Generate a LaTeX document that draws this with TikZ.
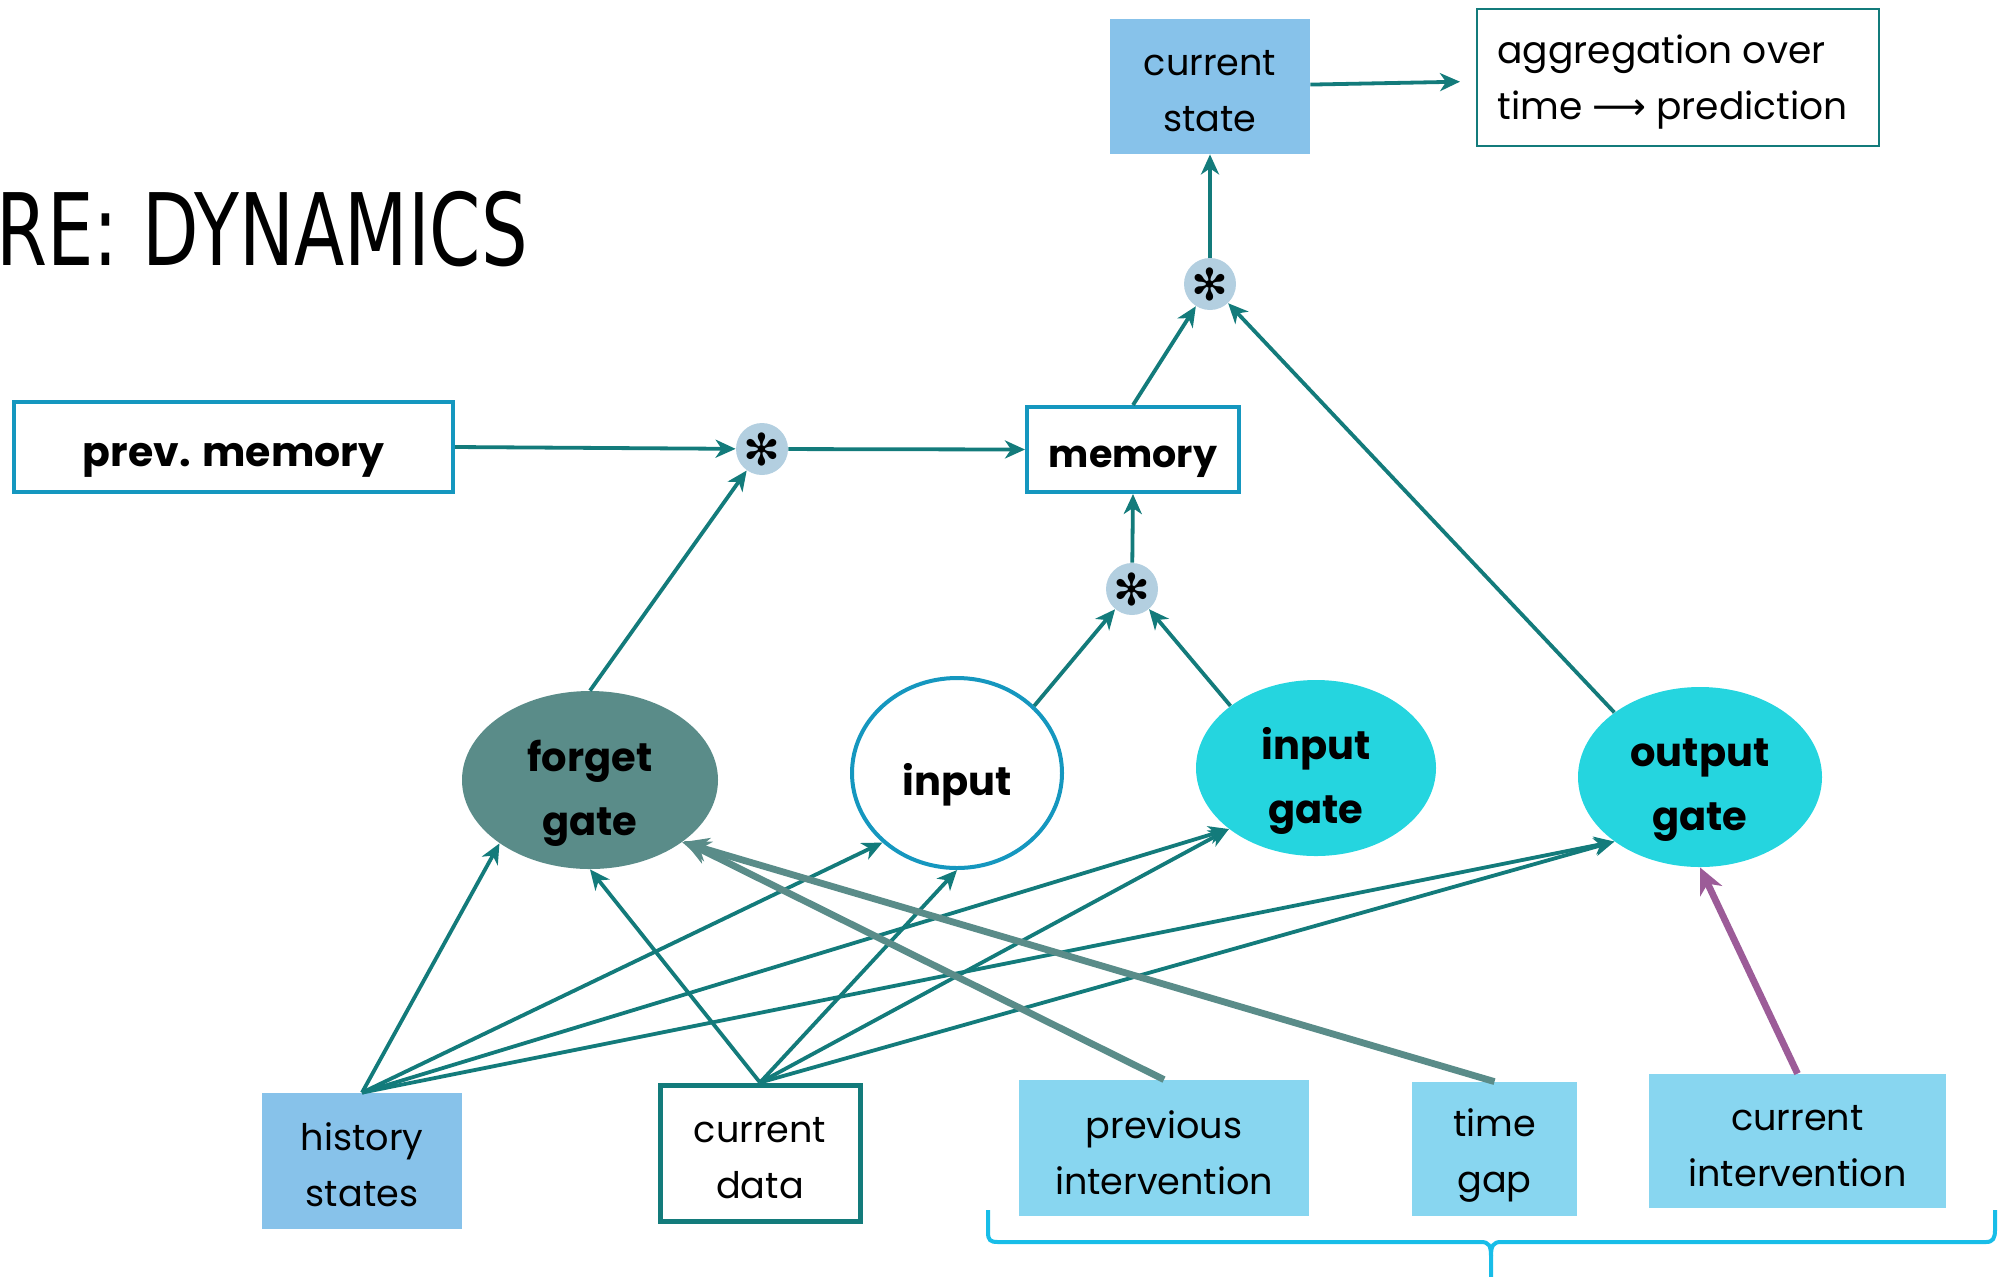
\documentclass[tikz,border=0pt]{standalone}
\usepackage{fontspec}
\setmainfont{Poppins}
\newfontfamily\titlefont[FakeStretch=0.735]{DejaVu Sans}
\newfontfamily\symfont{DejaVu Sans}
\usetikzlibrary{shapes.geometric,arrows.meta}

\definecolor{tealline}{HTML}{137B7B}
\definecolor{boxblue}{HTML}{1597BF}
\definecolor{stateblue}{HTML}{87C2EA}
\definecolor{ivblue}{HTML}{88D6F0}
\definecolor{forgetfill}{HTML}{5A8C89}
\definecolor{gatecyan}{HTML}{25D5DF}
\definecolor{starfill}{HTML}{B3CFE0}
\definecolor{purpleline}{HTML}{9C5C98}
\definecolor{bracecyan}{HTML}{18BDE8}

\begin{document}
\begin{tikzpicture}[x=0.5pt,y=-0.5pt,
  txt/.style={font=\fontsize{18.3}{28}\selectfont, align=center, inner sep=0pt},
  btxt/.style={font=\fontsize{20}{32}\selectfont\bfseries, align=center, inner sep=0pt},
  solidbox/.style={rectangle, fill=#1, inner sep=0pt},
  linebox/.style={rectangle, draw=#1, fill=white, inner sep=0pt},
  gate/.style={ellipse, inner sep=0pt},
  mult/.style={circle, fill=starfill, minimum size=26pt, inner sep=0pt,
    font=\symfont\fontsize{22}{22}\selectfont},
  arr/.style={draw=tealline, line width=1.9pt,
    -{Stealth[length=10pt,width=9pt,inset=3pt]}},
  heavyarr/.style={draw=#1, line width=3.4pt,
    -{Stealth[length=13pt,width=12pt,inset=4pt]}}
]
\useasboundingbox (0,0) rectangle (2007,1276);

% heading
\node[anchor=base west, inner sep=0pt, font=\titlefont\fontsize{50}{50}\selectfont]
  (title) at (-4,265) {RE: DYNAMICS};

% output side
\node[solidbox=stateblue, minimum width=100pt, minimum height=67.5pt] (cs) at (1210,86.5) {};
\node[txt] (cs-t) at ([yshift=-2.5pt]cs.center) {current\\state};
\node[linebox=tealline, line width=1pt, minimum width=201pt, minimum height=68.5pt]
  (agg) at (1678,77.5) {};
\node[txt, font=\fontsize{18.8}{28}\selectfont, align=left, anchor=west] (agg-t)
  at ([xshift=10.5pt,yshift=-2.5pt]agg.west)
  {aggregation over\\time {\symfont ⟶} prediction};

% memory path
\node[linebox=boxblue, line width=2pt, minimum width=219.5pt, minimum height=45pt]
  (pm) at (233.5,447) {};
\node[btxt, font=\fontsize{20.5}{32}\selectfont\bfseries] (pm-t) at ([yshift=-6.5pt]pm.center) {prev. memory};
\node[linebox=boxblue, line width=2pt, minimum width=106pt, minimum height=42.5pt]
  (mem) at (1133,449.5) {};
\node[btxt, font=\fontsize{19}{32}\selectfont\bfseries] (mem-t) at ([yshift=-6pt]mem.center) {memory};

\node[mult] (m1) at (762,449) {✻};
\node[mult] (m2) at (1132,589) {✻};
\node[mult] (m3) at (1210,284) {✻};

% gates
\node[gate, fill=forgetfill, minimum width=128pt, minimum height=89pt] (fg) at (590,780) {};
\node[btxt] (fg-t) at ([yshift=-6.5pt]fg.center) {forget\\gate};
\node[gate, draw=boxblue, line width=2pt, fill=white, minimum width=105pt, minimum height=95pt]
  (inp) at (957,773) {};
\node[btxt] (inp-t) at ([yshift=-6pt]inp.center) {input};
\node[gate, fill=gatecyan, minimum width=120pt, minimum height=88pt] (ig) at (1316,768) {};
\node[btxt] (ig-t) at ([yshift=-6.5pt]ig.center) {input\\gate};
\node[gate, fill=gatecyan, minimum width=122pt, minimum height=90pt] (og) at (1700,777) {};
\node[btxt] (og-t) at ([yshift=-6.5pt]og.center) {output\\gate};

% inputs
\node[solidbox=stateblue, minimum width=100pt, minimum height=68pt] (hist) at (362,1161) {};
\node[txt] (hist-t) at ([yshift=-2pt]hist.center) {history\\states};
\node[linebox=tealline, line width=2.5pt, minimum width=100pt, minimum height=68pt]
  (cd) at (760,1153) {};
\node[txt] (cd-t) at ([yshift=-2.5pt]cd.center) {current\\data};
\node[solidbox=ivblue, minimum width=145pt, minimum height=68pt] (pi) at (1164,1148) {};
\node[txt] (pi-t) at ([yshift=-2.5pt]pi.center) {previous\\intervention};
\node[solidbox=ivblue, minimum width=82.5pt, minimum height=67pt] (tg) at (1494.5,1149) {};
\node[txt] (tg-t) at ([yshift=-3pt]tg.center) {time\\gap};
\node[solidbox=ivblue, minimum width=148.5pt, minimum height=67pt] (ci) at (1797.5,1141) {};
\node[txt] (ci-t) at ([yshift=-2.5pt]ci.center) {current\\intervention};

% state and memory connections
\draw[arr] (m3) -- (cs.south);
\draw[arr, shorten >=8pt] (cs) -- (agg);
\draw[arr] (mem.north) -- (m3);
\draw[arr] (og.143) -- (m3);
\draw[arr] (pm.east) -- (m1);
\draw[arr] (m1) -- (mem.west);
\draw[arr] (m2) -- (mem.south);
\draw[arr] (fg.north) -- (m1);
\draw[arr] (inp.41) -- (m2);
\draw[arr] (ig.144) -- (m2);

% history states feed every gate
\draw[arr] (hist.north) -- (fg.215);
\draw[arr] (hist.north) -- (inp.223);
\draw[arr] (hist.north) -- (ig.215);
\draw[arr] (hist.north) -- (og.217);

% current data feeds every gate
\draw[arr] (cd.north) -- (fg.south);
\draw[arr] (cd.north) -- (inp.south);
\draw[arr] (cd.north) -- (ig.215);
\draw[arr] (cd.north) -- (og.217);

% interventions
\draw[heavyarr=forgetfill] (pi.north) -- (fg.327);
\draw[heavyarr=forgetfill] (tg.north) -- (fg.326);
\draw[heavyarr=purpleline] (ci.north) -- (og.south);

% brace under the intervention inputs
\draw[bracecyan, line width=2pt]
  (988,1210) -- (988,1232) .. controls (988,1240) and (990,1242) .. (998,1242)
  -- (1481,1242) .. controls (1489,1242) and (1491,1246) .. (1491,1256) -- (1491,1280);
\draw[bracecyan, line width=2pt]
  (1491,1256) .. controls (1491,1246) and (1493,1242) .. (1501,1242)
  -- (1986,1242) .. controls (1993,1242) and (1995,1238) .. (1995,1230) -- (1995,1210);
\end{tikzpicture}
\end{document}
